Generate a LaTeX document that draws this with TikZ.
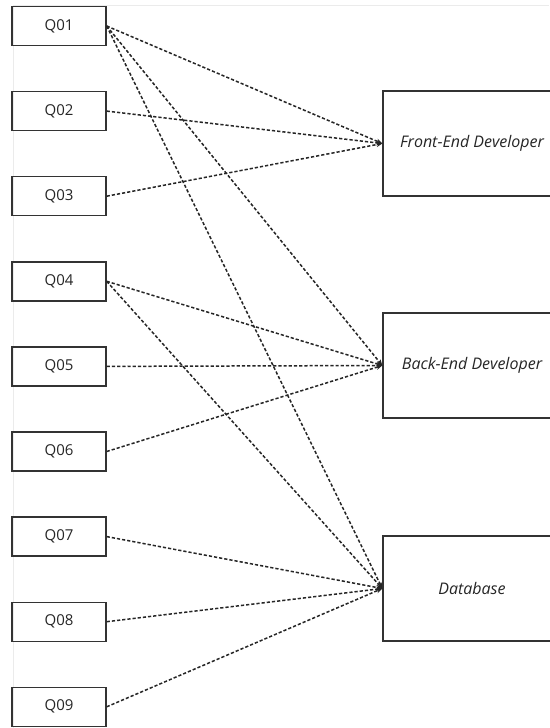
\documentclass[tikz,border=0pt]{standalone}
\usepackage{fontspec}
\setmainfont{Open Sans}
\usetikzlibrary{arrows.meta}
\begin{document}
\begin{tikzpicture}[x=1pt,y=-1pt,
  qbox/.style={draw=black!80,line width=1.4pt,minimum width=94pt,minimum height=39pt,inner sep=0pt,text=black!85,font=\fontsize{15}{17}\selectfont},
  rbox/.style={draw=black!80,line width=1.4pt,minimum width=178pt,minimum height=105pt,inner sep=0pt,text=black!85,font=\fontsize{16}{18}\selectfont\itshape},
  link/.style={draw=black!85,line width=1.5pt,dash pattern=on 3.2pt off 2pt,-{Stealth[length=6pt,width=5pt]}}]
\useasboundingbox (0,0) rectangle (549,728);
\fill[white] (0,0) rectangle (549,728);
\draw[black!8,line width=0.8pt] (13,728) -- (13,5.5) -- (549,5.5);
\foreach \i/\t in {1/Q01,2/Q02,3/Q03,4/Q04,5/Q05,6/Q06,7/Q07,8/Q08,9/Q09}{
  \node[qbox] (q\i) at (59,{26+85.1*(\i-1)}) {\t};
}
\node[rbox] (fe) at (472,143.5) {Front-End Developer};
\node[rbox] (be) at (472,365.5) {Back-End Developer};
\node[rbox] (db) at (472,588.5) {Database};
\foreach \a/\b in {q1/fe,q1/be,q1/db,q2/fe,q3/fe,q4/be,q4/db,q5/be,q6/be,q7/db,q8/db,q9/db}{
  \draw[link] (\a.east) -- (\b.west);
}
\end{tikzpicture}
\end{document}
